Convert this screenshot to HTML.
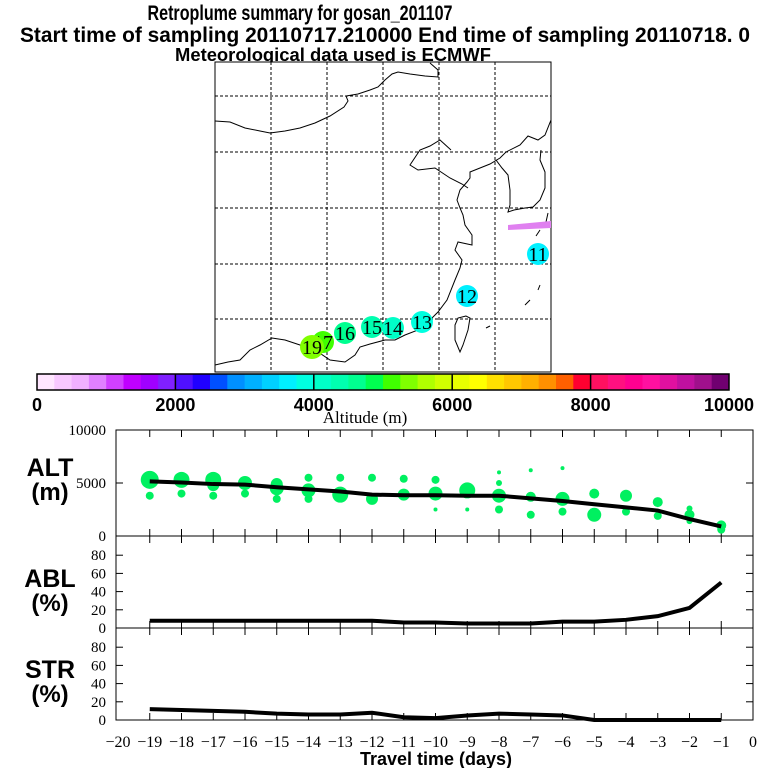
<!DOCTYPE html>
<html><head><meta charset="utf-8"><style>
body{margin:0;background:#fff;}
svg{display:block;}
.t{font-family:"Liberation Sans Narrow","Liberation Sans",sans-serif;font-weight:bold;fill:#000;}
.s{font-family:"Liberation Serif",serif;fill:#000;}
</style></head><body>
<svg id="c" width="768" height="768" viewBox="0 0 768 768" xmlns="http://www.w3.org/2000/svg">
<text class="t" x="300" y="20" font-size="21" text-anchor="middle" textLength="305" lengthAdjust="spacingAndGlyphs">Retroplume summary for gosan_201107</text>
<text class="t" x="20" y="42" font-size="21" textLength="730" lengthAdjust="spacingAndGlyphs">Start time of sampling 20110717.210000     End time of sampling 20110718.     0</text>
<text class="t" x="333" y="61" font-size="18" text-anchor="middle" textLength="316" lengthAdjust="spacingAndGlyphs">Meteorological data used is ECMWF</text>
<g id="map"></g>
<g id="cbar"></g>
<g id="alt"></g>
<g id="abl"></g>
<g id="str"></g>
<g id="xax"></g>
</svg>
<script>
const days=[-19,-18,-17,-16,-15,-14,-13,-12,-11,-10,-9,-8,-7,-6,-5,-4,-3,-2,-1];
const altMean=[5150,5050,4900,4850,4600,4400,4200,3900,3850,3850,3800,3800,3550,3300,3000,2700,2400,1600,900];
const ablPct=[8,8,8,8,8,8,8,8,6,6,5,5,5,7,7,9,13,22,50];
const strPct=[12,11,10,9,7,6,6,8,3,2,5,7,6,5,0,0,0,0,0];
const dotDay=[-19,-19,-18,-18,-17,-17,-17,-16,-16,-15,-15,-15,-14,-14,-14,-13,-13,-12,-12,-11,-11,-10,-10,-10,-9,-9,-8,-8,-8,-8,-7,-7,-7,-6,-6,-6,-5,-5,-4,-4,-3,-3,-2,-2,-2,-1,-1];
const dotAlt=[5300,3800,5300,4000,5300,4800,3800,5000,4000,4900,4500,3500,5500,4300,3500,5500,3900,5500,3500,5400,3900,5300,4000,2500,4300,2500,6000,5000,3800,2500,6200,3700,2000,6400,3500,2300,4000,2000,3800,2300,3200,1900,2600,2000,1400,1000,600];
const dotSize=[9,4,8,4,8,6,4,7,4,6,7,4,4,7,4,4,8,4,6,4,6,4,7,2,8,2,2,3,7,4,2,5,4,2,7,4,5,7,6,4,5,4,3,5,3,5,4];
const trajLabel=["11","12","13","14","15","16","17","19"];
const trajAlt=[3700,3700,3900,4100,4300,4600,5000,5300];
const trajLon=[538,467,422,393,372,345,323,312];
const trajLat=[254,296,322,328,327,333,342,347];
const cbColors=["#ffe6ff","#f8c8ff","#f0b0ff","#e080ff","#d040ff","#c000ff","#a000ff","#8020ff","#5010ff","#2000ff","#0050ff","#0090ff","#00b0ff","#00d0ff","#00f0ff","#00ffe0","#00ffc8","#00ffb0","#00ff90","#00ff50","#40ff00","#80ff00","#b0ff00","#d0ff00","#e8ff00","#ffff00","#ffe000","#ffc800","#ffb000","#ff9000","#ff6000","#ff0030","#ff1060","#ff1080","#ff0090","#ff10a0","#e010a0","#c010a0","#a0108c","#700070"];
const cbTicks=[0,2000,4000,6000,8000,10000];
const altTicks=[0,5000,10000];
const pctTicks=[0,20,40,60,80];
const xTicks=[-20,-19,-18,-17,-16,-15,-14,-13,-12,-11,-10,-9,-8,-7,-6,-5,-4,-3,-2,-1,0];

const NS="http://www.w3.org/2000/svg";
function mk(p,tag,at){const e=document.createElementNS(NS,tag);for(const k in at)e.setAttribute(k,at[k]);p.appendChild(e);return e;}
const X0=118,X1=753,B0=116;
const xs=d=>X1+(d/20)*(X1-X0);
const altY=v=>536-v/10000*106;
const ablY=v=>628-v/100*91;
const strY=v=>720-v/100*91;
function colorOf(a){let i=Math.min(39,Math.max(0,Math.floor(a/250)));return cbColors[i];}

const map=document.getElementById('map');
let r=mk(map,'rect',{x:215,y:62,width:336,height:310,fill:'#fff',stroke:'#000','stroke-width':1});

[271,327,383,439,495].forEach(x=>{const l=mk(map,'line',{x1:x,y1:62,x2:x,y2:372,stroke:'#000','stroke-dasharray':'3,2'});});
[96,152,208,264,319].forEach(y=>{const l=mk(map,'line',{x1:215,y1:y,x2:551,y2:y,stroke:'#000','stroke-dasharray':'3,2'});});
const coasts=[
"M215,121 L230,122 L245,128 L260,131 L270,133 L285,131 L300,128 L315,123 L330,116 L344,107 L348,101 L346,96 L358,94 L370,90 L378,87 L385,80 L392,74 L398,72 L410,74 L425,76 L438,77 L438,70 L430,63",
"M551,120 L545,135 L538,140 L528,136 L520,145 L506,152 L500,158 L490,164 L480,168 L470,172 L470,178 L467,182 L460,190 L457,200 L460,208 L463,215 L465,225 L472,235 L472,245 L458,242 L455,250 L462,260 L460,268 L455,280 L447,300 L438,312 L430,320 L418,330 L405,335 L395,340 L385,340 L370,344 L360,347 L355,355 L345,362 L330,360 L318,352 L300,345 L285,340 L272,338 L260,345 L250,350 L240,360 L228,362 L215,365",
"M451,150 L440,140 L430,146 L420,150 L410,165 L418,170 L435,168 L450,178 L462,184 L468,188",
"M496,160 L502,168 L508,175 L510,190 L510,205 L508,212 L514,210 L525,208 L533,207 L540,200 L545,188 L545,172 L540,160 L541,150",
"M466,316 L458,318 L455,325 L455,340 L460,352 L463,345 L468,330 L470,318 Z",
"M548,213 L546,222 M540,230 L536,236 M540,285 L538,290 M530,300 L525,305 M490,326 L486,328"];
coasts.forEach(d=>{const p=mk(map,'path',{d:d,fill:'none',stroke:'#000','stroke-width':1});});
const pl=mk(map,'path',{d:'M508,225 L551,221 L551,228 L508,230 Z',fill:'#e080f0'});

trajLabel.forEach((lab,i)=>{
  const big=lab==="19";
  const c=mk(map,'circle',{cx:trajLon[i],cy:trajLat[i],r:big?12:11,fill:colorOf(trajAlt[i])});
  
  const t=mk(map,'text',{x:trajLon[i],y:trajLat[i]+7,'font-size':20,'text-anchor':'middle',class:'s'});t.textContent=lab;
  
});

const cb=document.getElementById('cbar');
const CB0=37,CB1=729,cw=(CB1-CB0)/cbColors.length;
cbColors.forEach((col,i)=>{const e=mk(cb,'rect',{x:CB0+i*cw,y:374,width:cw+0.5,height:16,fill:col});});
mk(cb,'rect',{x:CB0,y:374,width:CB1-CB0,height:16,fill:'none',stroke:'#000','stroke-width':1.5});
cbTicks.forEach(v=>{const x=CB0+v/10000*(CB1-CB0);
  if(v>0&&v<10000)mk(cb,'line',{x1:x,y1:374,x2:x,y2:390,stroke:'#000','stroke-width':1.5});
  const t=mk(cb,'text',{x:x,y:411,'font-size':18,'text-anchor':'middle',class:'t'});t.textContent=v;
  });
const at=mk(cb,'text',{x:365,y:423,'font-size':17,'text-anchor':'middle',class:'s'});at.textContent='Altitude (m)';


function panel(g,top,bot,ticks,yf,label,unit,ly){
  mk(g,'rect',{x:B0,y:top,width:X1-B0,height:bot-top,fill:'none',stroke:'#000','stroke-width':1});
  xTicks.slice(1,-1).forEach(d=>{mk(g,'line',{x1:xs(d),y1:top,x2:xs(d),y2:top+7,stroke:'#000'});mk(g,'line',{x1:xs(d),y1:bot,x2:xs(d),y2:bot-7,stroke:'#000'});});
  ticks.forEach(v=>{const y=yf(v);mk(g,'line',{x1:B0,y1:y,x2:B0+7,y2:y,stroke:'#000'});mk(g,'line',{x1:X1,y1:y,x2:X1-7,y2:y,stroke:'#000'});
    const t=mk(g,'text',{x:B0-10,y:y+5,'font-size':15,'text-anchor':'end',class:'s'});t.textContent=v;
    });
  const a=mk(g,'text',{x:50,y:ly,'font-size':25,'text-anchor':'middle',class:'t'});a.textContent=label;
  
  const b=mk(g,'text',{x:50,y:ly+24,'font-size':24,'text-anchor':'middle',class:'t'});b.textContent=unit;
  
}
const alt=document.getElementById('alt');
panel(alt,430,536,altTicks,altY,'ALT','(m)',476);
dotDay.forEach((d,i)=>{const c=mk(alt,'circle',{cx:xs(d),cy:altY(dotAlt[i]),r:dotSize[i],fill:'#00f060'});
  });
function line(g,vals,yf,name){const p=mk(g,'polyline',{points:days.map((d,i)=>xs(d)+','+yf(vals[i])).join(' '),fill:'none',stroke:'#000','stroke-width':4});
  }
line(alt,altMean,altY,'mean-altitude-line');
const abl=document.getElementById('abl');
panel(abl,536,628,pctTicks,ablY,'ABL','(%)',587);
line(abl,ablPct,ablY,'abl-fraction-line');
const str=document.getElementById('str');
panel(str,628,720,pctTicks,strY,'STR','(%)',678);
line(str,strPct,strY,'stratosphere-fraction-line');
const xa=document.getElementById('xax');
xTicks.forEach(d=>{const t=mk(xa,'text',{x:xs(d),y:747,'font-size':16,'text-anchor':'middle',class:'s'});t.textContent=(d<0?'\u2212'+(-d):d);
  });
const xt=mk(xa,'text',{x:436,y:765,'font-size':18,'text-anchor':'middle',class:'t'});xt.textContent='Travel time (days)';

</script>
</body></html>
